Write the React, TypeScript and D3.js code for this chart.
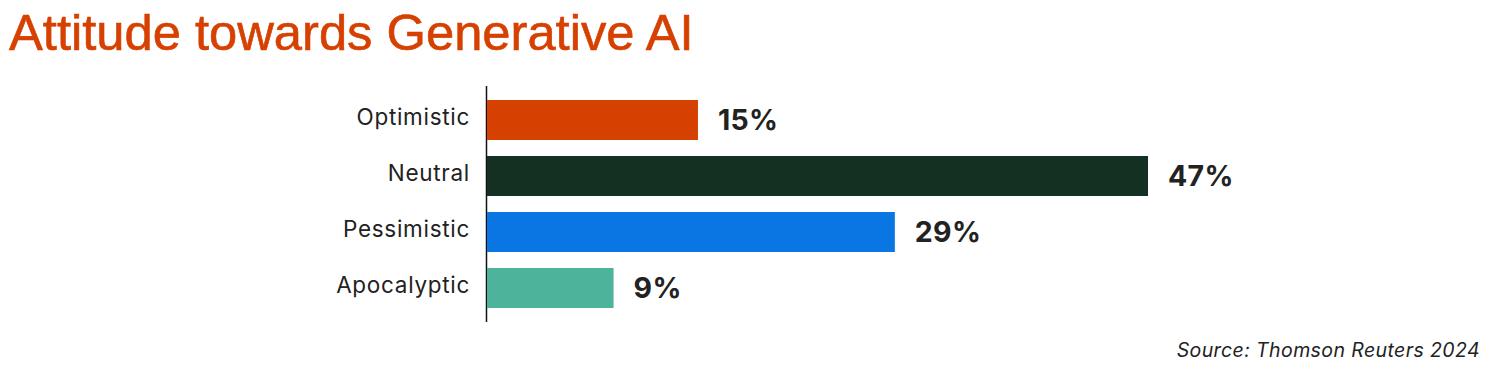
import React from "react";
import * as d3 from "d3";

const categories = ["Optimistic", "Neutral", "Pessimistic", "Apocalyptic"];
const values = [15, 47, 29, 9];
const colors = ["#D64000", "#143022", "#0A76E3", "#4DB39B"];
const title = "Attitude towards Generative AI";
const source = "Source: Thomson Reuters 2024";

const W = 1488;
const H = 367;

export default function App() {
  const x0 = 487;
  const x = d3.scaleLinear().domain([0, 47]).range([x0, 1148]);
  const yb = d3.scaleBand<string>().domain(categories).range([92, 316]).padding(0);
  const bh = 40;

  return (
    <svg
      width={W}
      height={H}
      style={{ position: "absolute", left: 0, top: 0, background: "#fff" }}
    >
      <text
        x={9}
        y={50}
        fontFamily="Liberation Sans, Arial, sans-serif"
        fontSize={50.7}
        fill="#D64000"
        stroke="#D64000"
        strokeWidth={0.6}
      >
        {title}
      </text>
      <line x1={x0 - 0.5} x2={x0 - 0.5} y1={86} y2={322} stroke="#111" strokeWidth={1.5} />
      {categories.map((c, i) => {
        const cy = (yb(c) as number) + yb.bandwidth() / 2;
        return (
          <g key={c}>
            <rect
              x={x0}
              y={cy - bh / 2}
              width={x(values[i]) - x0}
              height={bh}
              fill={colors[i]}
            />
            <text
              x={470}
              y={cy + 4.5}
              textAnchor="end"
              fontFamily="Inter, sans-serif"
              fontSize={22.5}
              letterSpacing={0.7}
              fill="#222"
            >
              {c}
            </text>
            <text
              x={x(values[i]) + 20}
              y={cy + 10}
              fontFamily="Inter, sans-serif"
              fontWeight={700}
              fontSize={28.5}
              letterSpacing={0.3}
              fill="#222"
            >
              {values[i]}%
            </text>
          </g>
        );
      })}
      <text
        x={1480}
        y={357}
        textAnchor="end"
        fontFamily="Inter, sans-serif"
        fontStyle="italic"
        fontSize={19.5}
        letterSpacing={0.4}
        fill="#222"
      >
        {source}
      </text>
    </svg>
  );
}
